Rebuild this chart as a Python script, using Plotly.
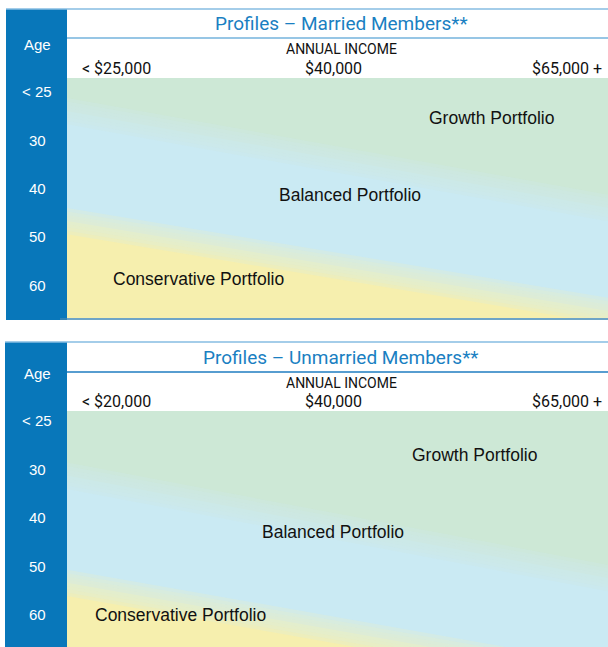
import plotly.graph_objects as go

W, H = 608, 647

# ---------------- data ----------------
age_labels = ["< 25", "30", "40", "50", "60"]
married_income_labels = ["< $25,000", "$40,000", "$65,000 +"]
unmarried_income_labels = ["< $20,000", "$40,000", "$65,000 +"]
portfolio_names = ["Growth Portfolio", "Balanced Portfolio", "Conservative Portfolio"]
panel_titles = ["Profiles – Married Members**", "Profiles – Unmarried Members**"]

# zone boundaries: age row (0 = "< 25" ... 4 = "60") at income positions
boundary_income = [-0.25, 2.25]
married_growth_edge = [0.37, 2.46]
married_conservative_edge = [2.65, 4.59]
unmarried_growth_edge = [1.10, 3.30]
unmarried_conservative_edge = [3.31, 5.36]

# ---------------- style ----------------
GREEN = "rgb(205,232,214)"
BLUE = "rgb(202,234,243)"
YELLOW = "rgb(246,239,174)"
MID_GB = "rgba(204,233,229,0.4)"
MID_BY = "rgba(224,237,210,0.4)"
BAR = "#0877ba"
TITLE_BLUE = "#1a7fc2"
NARROW = "Roboto, Liberation Sans Narrow, Arial Narrow, sans-serif"
REG = "Liberation Sans, Arial, Helvetica, sans-serif"


def px(x):
    return x / W


def py(y):
    return 1 - y / H


fig = go.Figure()

panels = [
    dict(xa="x", ya="y", growth=married_growth_edge, cons=married_conservative_edge),
    dict(xa="x2", ya="y2", growth=unmarried_growth_edge, cons=unmarried_conservative_edge),
]

for p in panels:
    g, c = p["growth"], p["cons"]
    xs = boundary_income
    fig.add_trace(go.Scatter(x=[xs[0], xs[1], xs[1], xs[0]], y=[g[0], g[1], -1, -1],
                             fill="toself", fillcolor=GREEN, mode="none",
                             xaxis=p["xa"], yaxis=p["ya"], hoverinfo="skip", showlegend=False))
    fig.add_trace(go.Scatter(x=[xs[0], xs[1], xs[1], xs[0]], y=[g[0], g[1], c[1], c[0]],
                             fill="toself", fillcolor=BLUE, mode="none",
                             xaxis=p["xa"], yaxis=p["ya"], hoverinfo="skip", showlegend=False))
    fig.add_trace(go.Scatter(x=[xs[0], xs[1], xs[1], xs[0]], y=[c[0], c[1], 7, 7],
                             fill="toself", fillcolor=YELLOW, mode="none",
                             xaxis=p["xa"], yaxis=p["ya"], hoverinfo="skip", showlegend=False))
    for edge, col in ((g, MID_GB), (c, MID_BY)):
        for wdt in (26, 19, 12, 6):
            fig.add_trace(go.Scatter(x=xs, y=edge, mode="lines",
                                     line=dict(color=col, width=wdt),
                                     xaxis=p["xa"], yaxis=p["ya"], hoverinfo="skip",
                                     showlegend=False))

xdom = [px(67), 1]
xrange_ = [-0.2173, 2.182]
ax_common = dict(showgrid=False, zeroline=False, showticklabels=False, ticks="",
                 showline=False, fixedrange=True)

fig.update_layout(
    width=W, height=H,
    margin=dict(l=0, r=0, t=0, b=0),
    paper_bgcolor="white", plot_bgcolor=BLUE,
    xaxis=dict(domain=xdom, range=xrange_, anchor="y", **ax_common),
    yaxis=dict(domain=[py(318), py(78)], range=[4.684, -0.29], anchor="x", **ax_common),
    xaxis2=dict(domain=xdom, range=xrange_, anchor="y2", **ax_common),
    yaxis2=dict(domain=[0, py(411)], range=[4.66, -0.206], anchor="x2", **ax_common),
)

shapes = []
shapes.append(dict(type="rect", xref="paper", yref="paper", x0=px(6), x1=px(67),
                   y0=py(320), y1=py(9), fillcolor=BAR, line=dict(width=0), layer="above"))
shapes.append(dict(type="rect", xref="paper", yref="paper", x0=px(5), x1=px(67),
                   y0=py(647), y1=py(342), fillcolor=BAR, line=dict(width=0), layer="above"))
rules = [
    (6, 608, 9, "#86bde2", 1.5),
    (67, 608, 38, "#74b3dd", 1.5),
    (60, 608, 319, "#3e87b4", 1.5),
    (5, 608, 342, "#86bde2", 1.5),
    (67, 608, 372, "#1f7dc0", 1.5),
]
for x0, x1, y, col, w in rules:
    shapes.append(dict(type="line", xref="paper", yref="paper", x0=px(x0), x1=px(x1),
                       y0=py(y), y1=py(y), line=dict(color=col, width=w), layer="above"))
fig.update_layout(shapes=shapes)

ann = []
for title, y in zip(panel_titles, (23, 357)):
    ann.append(dict(text=title, xref="paper", yref="paper", x=px(341), y=py(y),
                    showarrow=False, xanchor="center", yanchor="middle",
                    font=dict(family=NARROW, size=19, color=TITLE_BLUE)))
for y in (44, 373):
    ann.append(dict(text="Age", xref="paper", yref="paper", x=px(37), y=py(y),
                    showarrow=False, xanchor="center", yanchor="middle",
                    font=dict(family=REG, size=15, color="white")))
for y in (49, 383):
    ann.append(dict(text="ANNUAL INCOME", xref="paper", yref="paper", x=px(341), y=py(y),
                    showarrow=False, xanchor="center", yanchor="middle",
                    font=dict(family=NARROW, size=14, color="#111111")))
for labels, xa, y in ((married_income_labels, "x", 68), (unmarried_income_labels, "x2", 401)):
    for i, lab in enumerate(labels):
        ann.append(dict(text=lab, xref=xa, yref="paper", x=i, y=py(y),
                        xshift=(-8 if i == 1 else 0),
                        showarrow=False, xanchor="center", yanchor="middle",
                        font=dict(family=NARROW, size=16, color="#111111")))
for ya in ("y", "y2"):
    for i, lab in enumerate(age_labels):
        ann.append(dict(text=lab, xref="paper", yref=ya, x=px(37), y=i,
                        showarrow=False, xanchor="center", yanchor="middle",
                        font=dict(family=REG, size=15, color="white")))
zone_pos = {
    ("x", "y"): [(1.667, 0.54), (1.038, 2.135), (0.364, 3.876)],
    ("x2", "y2"): [(1.588, 0.70), (0.962, 2.289), (0.284, 4.0)],
}
for (xa, ya), pos in zone_pos.items():
    for name, (xx, yy) in zip(portfolio_names, pos):
        ann.append(dict(text=name, xref=xa, yref=ya, x=xx, y=yy,
                        showarrow=False, xanchor="center", yanchor="middle",
                        font=dict(family=REG, size=17.5, color="#111111")))
fig.update_layout(annotations=ann)

fig.write_html(
    "out.html",
    config={"displayModeBar": False, "staticPlot": True},
    post_script="document.body.style.margin='0';document.body.style.padding='0';",
)
